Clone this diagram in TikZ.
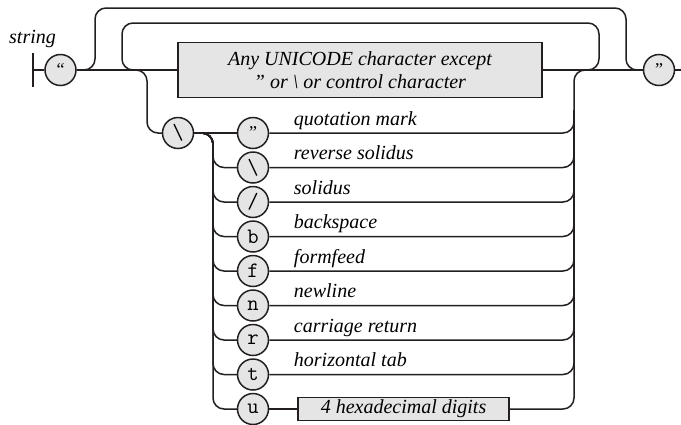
\documentclass[tikz,border=0pt]{standalone}
\usepackage{fontspec}
\setmainfont{Liberation Serif}
\usetikzlibrary{positioning}
\definecolor{railGray}{RGB}{229,229,229}
\definecolor{railInk}{RGB}{35,31,32}
\tikzset{
	railline/.style={draw=railInk, line width=1.5pt, rounded corners=11pt},
	tokcirc/.style={circle, draw=railInk, line width=1.5pt, fill=railGray,
		minimum size=31pt, inner sep=0pt, font=\ttfamily\fontsize{22}{22}\selectfont},
	railbox/.style={rectangle, draw=railInk, line width=1.6pt, fill=railGray,
		align=center, inner sep=0pt, font=\itshape\fontsize{20}{23}\selectfont},
	raillabel/.style={font=\itshape\fontsize{20}{23}\selectfont, inner sep=0pt, anchor=base west}
}

\begin{document}
\begin{tikzpicture}[x=1pt, y=-1pt, node distance=2pt and 42.5pt,
			quotecirc/.style={tokcirc, font=\fontsize{18}{18}\selectfont}]
	\useasboundingbox (0,0) rectangle (681,424);
	% main track
	\coordinate (st) at (33,70);
	\coordinate (stTop) at (33,53);
	\coordinate (stBot) at (33,87);
	\node[raillabel, anchor=base] (title) at (32.5,43) {string};
	\node[quotecirc] (oq) at (60.5,70) {“};
	\node[railbox, minimum width=364pt, minimum height=55pt] (any) at (360,70)
		{Any UNICODE character except\\” or \textbackslash\ or control character};
	\node[quotecirc] (cq) at (659,70) {”};
	\coordinate (fin) at (681,70);
	% escapes
	\node[tokcirc] (esc) at (178,133) {\textbackslash};
	\node[quotecirc, right=of esc] (eq) {”};
	\node[tokcirc, below=of eq] (ebs) {\textbackslash};
	\node[tokcirc, below=of ebs] (esl) {/};
	\node[tokcirc, below=of esl] (eb) {b};
	\node[tokcirc, below=of eb] (ef) {f};
	\node[tokcirc, below=of ef] (en) {n};
	\node[tokcirc, below=of en] (er) {r};
	\node[tokcirc, below=of er] (et) {t};
	\node[tokcirc, below=of et] (eu) {u};
	\node[railbox, minimum width=211pt, minimum height=23pt, right=28pt of eu] (hex) {4 hexadecimal digits};
	\node[raillabel] (lq) at ([xshift=24.5pt, yshift=8pt]eq.east) {quotation mark};
	\node[raillabel] (lbs) at ([xshift=24.5pt, yshift=8pt]ebs.east) {reverse solidus};
	\node[raillabel] (lsl) at ([xshift=24.5pt, yshift=8pt]esl.east) {solidus};
	\node[raillabel] (lb) at ([xshift=24.5pt, yshift=8pt]eb.east) {backspace};
	\node[raillabel] (lf) at ([xshift=24.5pt, yshift=8pt]ef.east) {formfeed};
	\node[raillabel] (ln) at ([xshift=24.5pt, yshift=8pt]en.east) {newline};
	\node[raillabel] (lr) at ([xshift=24.5pt, yshift=8pt]er.east) {carriage return};
	\node[raillabel] (lt) at ([xshift=24.5pt, yshift=8pt]et.east) {horizontal tab};
	% loop corners
	\coordinate (byL) at (95,8);
	\coordinate (byR) at (626,8);
	\coordinate (rpL) at (122,23);
	\coordinate (rpR) at (599,23);
	\coordinate (escL) at (147,70);
	\coordinate (fanL) at (213,133);
	\coordinate (fanR) at (574,110);
	% connectors
	\draw[railline] (stTop) -- (stBot);
	\draw[railline] (st) -- (oq);
	\draw[railline] (oq) -- (any);
	\draw[railline] (any) -- (cq);
	\draw[railline] (cq) -- (fin);
	\draw[railline] (oq.east) -| (byL) -- (byR) |- (cq.west);
	\draw[railline] (any.east) -| (rpR) -- (rpL) |- (any.west);
	\draw[railline] (oq.east) -- (escL) |- (esc.west);
	\draw[railline] (esc) -- (eq);
	\draw[railline] (esc.east) -- (fanL) |- (ebs.west);
	\draw[railline] (esc.east) -- (fanL) |- (esl.west);
	\draw[railline] (esc.east) -- (fanL) |- (eb.west);
	\draw[railline] (esc.east) -- (fanL) |- (ef.west);
	\draw[railline] (esc.east) -- (fanL) |- (en.west);
	\draw[railline] (esc.east) -- (fanL) |- (er.west);
	\draw[railline] (esc.east) -- (fanL) |- (et.west);
	\draw[railline] (esc.east) -- (fanL) |- (eu.west);
	\draw[railline] (eu) -- (hex);
	\draw[railline] (eq.east) -| (fanR);
	\draw[railline] (ebs.east) -| (fanR);
	\draw[railline] (esl.east) -| (fanR);
	\draw[railline] (eb.east) -| (fanR);
	\draw[railline] (ef.east) -| (fanR);
	\draw[railline] (en.east) -| (fanR);
	\draw[railline] (er.east) -| (fanR);
	\draw[railline] (et.east) -| (fanR);
	\draw[railline] (hex.east) -| (fanR) |- (cq.west);
\end{tikzpicture}
\end{document}
